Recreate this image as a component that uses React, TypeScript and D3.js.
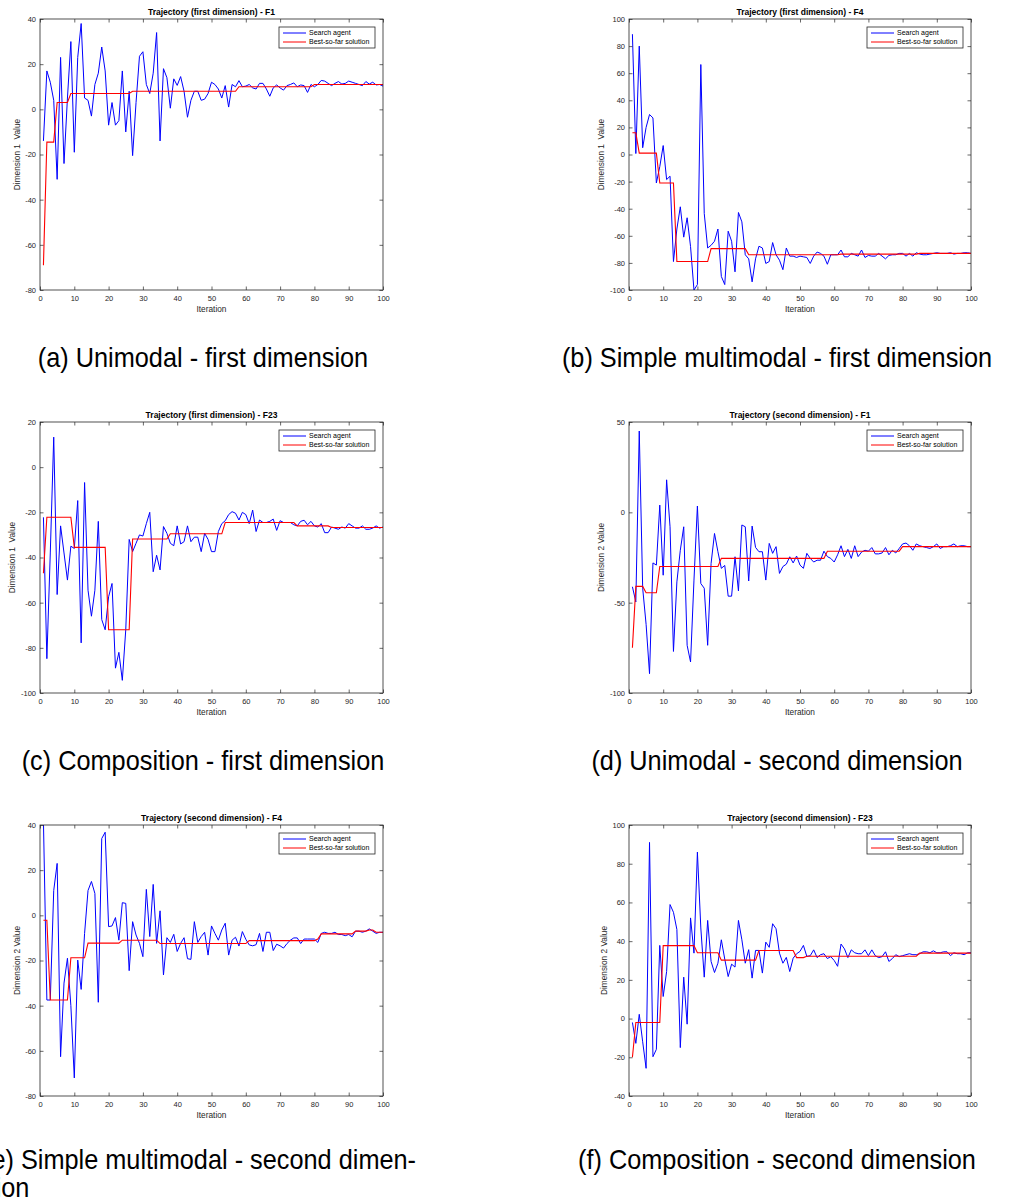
import React from 'react';
import { useRef, useEffect } from 'react';
import * as d3 from 'd3';

// iteration index (x values) and shared x ticks
const iterations = d3.range(1, 101);
const xTicks = [0, 10, 20, 30, 40, 50, 60, 70, 80, 90, 100];

// (a) F1, first dimension
const agentF1Dim1 = [
  -14, 17, 12, 4, -31, 23, -24, 5, 30, -19,
  23, 38, 5, 4, -3, 11, 16, 27.6, 17, -7,
  3, -7, -5, 17, -10, 8, -20.5, 3, 23.5, 25.5,
  11, 7, 16, 34, -14, 18, 14, 0.5, 13.5, 10.6,
  14.5, 8, -3.5, 4, 8, 8, 4, 4.5, 7, 12,
  11, 9, 5, 10.5, 1, 11, 10, 12.7, 10, 10.3,
  11, 9.5, 9, 11.5, 11.5, 9, 5.8, 9.5, 10.8, 9.5,
  8.5, 10.5, 11, 11.7, 10, 10.8, 10.5, 7.5, 11, 10,
  11, 12.8, 12.5, 11.5, 10.5, 11.5, 12.3, 11.2, 11.5, 12.5,
  12, 11.5, 11, 10.5, 12.3, 11.2, 12, 10.8, 11, 10.3,
];
const bestF1Dim1 = [
  -69, -14.5, -14.5, -14.5, 3, 3, 3, 3, 7, 7,
  7, 7, 7, 7, 7, 7, 7, 7, 7, 7,
  7, 7, 7, 7, 7, 7, 8, 8, 8, 8,
  8, 8, 8, 8, 8, 8, 8, 8, 8, 8,
  8, 8, 8, 8, 8, 8, 8, 8, 8, 8,
  8, 8, 8, 8, 8, 8, 8, 10, 10, 10,
  10, 10, 10, 10, 10, 10, 10, 10, 10, 10,
  10, 10, 10, 10, 10, 10, 10, 10, 10, 11,
  11, 11, 11, 11, 11, 11, 11, 11, 11, 11,
  11, 11, 11, 11, 11, 11, 11, 11, 11, 11,
];
const yTicksF1Dim1 = [-80, -60, -40, -20, 0, 20, 40];

// (b) F4, first dimension
const agentF4Dim1 = [
  88.8, 0.7, 80, 5, 20, 29.5, 27, -21, -9, 6.6,
  -18.5, -16, -79, -55, -38.6, -61, -46.7, -68, -100, -96,
  66.4, -43.5, -69, -67, -64, -55, -90, -96, -56.6, -64,
  -86.6, -42.8, -49.7, -74, -77, -94, -77, -67.7, -69, -80.4,
  -79, -65, -74, -78, -85, -69, -75, -75, -76, -75,
  -75.5, -76, -80.4, -75, -72, -73, -75, -81, -74, -74,
  -74, -70.5, -75.5, -75.5, -73, -74, -75, -70.5, -76, -74.5,
  -75, -75, -73, -75, -77, -74.5, -74, -74, -73, -73,
  -75, -73, -75, -72.5, -73.5, -74, -74, -73.5, -73, -72.5,
  -73, -73, -73, -72.5, -73.5, -73, -73, -72.5, -72.5, -73,
];
const bestF4Dim1 = [
  16, 16, 1, 1, 1, 1, 1, 1, -21, -21,
  -21, -21, -21, -79, -79, -79, -79, -79, -79, -79,
  -79, -79, -79, -69.5, -69.5, -69.5, -69.5, -69.5, -69.5, -69.5,
  -69.5, -69.5, -69.5, -69.5, -74, -74, -74, -74, -74, -74,
  -74, -74, -74, -74, -74, -74, -74, -74, -74, -74,
  -74, -74, -74, -74, -74, -74, -74, -74, -74, -74,
  -74, -73.5, -73.5, -73.5, -73.5, -73.5, -73.5, -73.5, -73.5, -73.5,
  -73.5, -73.5, -73.5, -73.5, -73.5, -73.5, -73.5, -73.5, -73.5, -73.5,
  -73.5, -73.5, -73.5, -73.5, -73, -73, -73, -73, -73, -73,
  -73, -73, -73, -73, -73, -73, -73, -73, -73, -73,
];
const yTicksF4Dim1 = [-100, -80, -60, -40, -20, 0, 20, 40, 60, 80, 100];

// (c) F23, first dimension
const agentF23Dim1 = [
  -22.2, -84.8, -38, 13.3, -56.4, -26, -38, -50, -35, -36,
  -14.8, -77.8, -6.8, -54.5, -66, -54.5, -24, -67.5, -72, -57.4,
  -51.5, -89, -82, -94.4, -72, -32, -37.4, -33.7, -30, -30.5,
  -25, -20, -46.3, -39, -45.5, -26.3, -29.3, -33.7, -34.8, -26,
  -34, -33, -26, -33, -31, -31, -37.4, -29.3, -32, -37.4,
  -37.4, -28.5, -25, -23.7, -21, -19.7, -20.4, -23.4, -20, -21,
  -25, -19, -28.5, -23.4, -24.5, -24.5, -24, -23, -28, -23.7,
  -24.5, -24.5, -24.5, -25.5, -26, -24, -23.5, -25.5, -24, -26,
  -26.5, -25, -29, -29, -26.5, -27, -27.5, -26.5, -27, -25,
  -26, -27, -27, -26, -27.5, -27.5, -27, -26, -27, -26.5,
];
const bestF23Dim1 = [
  -47, -22.2, -22.2, -22.2, -22.2, -22.2, -22.2, -22.2, -22.2, -35.5,
  -35.5, -35.5, -35.5, -35.5, -35.5, -35.5, -35.5, -35.5, -35.5, -72,
  -72, -72, -72, -72, -72, -72, -31.8, -31.8, -31.8, -31.8,
  -31.8, -31.8, -31.8, -31.8, -31.8, -31.8, -31.8, -29.5, -29.5, -29.5,
  -29.5, -29.5, -29.5, -29.5, -29.5, -29.5, -29.5, -29.5, -29.5, -29.5,
  -29.5, -29.5, -29.5, -24.5, -24.5, -24.5, -24.5, -24.5, -24.5, -24.5,
  -24.5, -24.5, -24.5, -24.5, -24.5, -24.5, -24.5, -24.5, -24.5, -24.5,
  -24.5, -24.5, -24.5, -24.5, -26, -26, -26, -26, -26, -26,
  -26, -26, -26, -26, -26.7, -26.7, -26.7, -26.7, -26.7, -26.7,
  -26.7, -26.7, -26.7, -26.7, -26.7, -26.7, -26.7, -26.7, -26.7, -26.7,
];
const yTicksF23Dim1 = [-100, -80, -60, -40, -20, 0, 20];

// (d) F1, second dimension
const agentF1Dim2 = [
  -41.2, -49.6, 45, -42, -62, -89.3, -28, -29.2, 4, -34.8,
  18, -8, -77, -38.5, -21, -8, -73.6, -82.8, -37.5, 3.5,
  -39.4, -42, -73.6, -28.3, -11.7, -21.8, -31, -29.4, -46.4, -46.4,
  -24.6, -43.5, -7, -8, -38, -7.6, -19.4, -21.8, -21.8, -37.5,
  -17.2, -22.7, -19, -33.8, -30, -28.7, -24.6, -28, -24.2, -29.2,
  -31, -22.7, -25.5, -27.5, -26.5, -26.5, -21.5, -24.5, -25.5, -27.5,
  -23.5, -18.5, -24.5, -20.5, -25.5, -18.5, -24.5, -22, -21, -21.5,
  -19.5, -23, -23, -22.5, -19.5, -23.5, -21, -22.5, -20, -17.5,
  -17, -18.5, -21, -17.5, -18.5, -19, -19.5, -20, -19, -17.5,
  -20, -19, -19, -18.5, -17.5, -19, -18.5, -18.5, -19, -19,
];
const bestF1Dim2 = [
  -75, -41, -41, -41, -44.5, -44.5, -44.5, -44.5, -30, -30,
  -30, -30, -30, -30, -30, -30, -30, -30, -30, -30,
  -30, -30, -30, -30, -30, -30, -25.5, -25.5, -25.5, -25.5,
  -25.5, -25.5, -25.5, -25.5, -25.5, -25.5, -25.5, -25.5, -25.5, -25.5,
  -25.5, -25.5, -25.5, -25.5, -25.5, -25.5, -25.5, -25.5, -25.5, -25.5,
  -25.5, -25.5, -25.5, -25.5, -25.5, -25.5, -25.5, -21.5, -21.5, -21.5,
  -21.5, -21.5, -21.5, -21.5, -21.5, -21.5, -21.5, -21.5, -21.5, -21.5,
  -21.5, -21.5, -21.5, -21.5, -21.5, -21.5, -21.5, -21.5, -21.5, -19,
  -19, -19, -19, -19, -19, -19, -19, -19, -19, -19,
  -19, -19, -19, -19, -19, -19, -19, -19, -19, -19,
];
const yTicksF1Dim2 = [-100, -50, 0, 50];

// (e) F4, second dimension
const agentF4Dim2 = [
  42, -37.5, -37.5, 11, 23, -62.6, -30, -19, -40, -72,
  -19.8, -32.8, -8, 11, 15, 9.7, -38.5, 34, 36.8, -5,
  -4.7, -1, -11, 5.6, 5.3, -24.5, -2.8, -8.7, -12.4, -18.3,
  11.5, -9.4, 13.7, -12.4, 2, -26.4, -9.9, -12, -8.4, -16,
  -12.4, -9.9, -19.2, -19.5, -2.8, -12, -9.4, -7.5, -17.6, -4.7,
  -8, -11, -6.5, -3.5, -17.6, -11, -9.7, -13.6, -7.2, -10.6,
  -13.1, -13.5, -13, -8, -16, -7.5, -7.5, -15.6, -12.8, -13.5,
  -14.5, -12.5, -11, -10, -10, -12.5, -10.5, -10.5, -10.5, -10.5,
  -12, -8, -7.5, -8, -8, -7.5, -8.5, -8.5, -9, -8.5,
  -9.5, -7, -7, -7.5, -7, -6, -7, -8, -7.5, -7.5,
];
const bestF4Dim2 = [
  -2.2, -2.2, -37.5, -37.5, -37.5, -37.5, -37.5, -37.5, -18.8, -18.8,
  -18.8, -18.8, -18.8, -12.3, -12.3, -12.3, -12.3, -12.3, -12.3, -12.3,
  -12.3, -12.3, -12.3, -11, -11, -11, -11, -11, -11, -11,
  -11, -11, -11, -11, -12.5, -12.5, -12.5, -12.5, -12.5, -12.5,
  -12.5, -12.5, -12.5, -12.5, -12.5, -12.5, -12.5, -12.5, -12.5, -12.5,
  -12.5, -12.5, -12.5, -12.5, -12.5, -12.5, -12.5, -12.5, -12.5, -12.5,
  -11.2, -11.2, -11.2, -11.2, -11.2, -11.2, -11.2, -11.2, -11.2, -11.2,
  -11.2, -11.2, -11.2, -11.2, -11.2, -11.2, -11.2, -11.2, -11.2, -11.2,
  -10.5, -8.2, -8.2, -8.2, -8.2, -8.2, -8.2, -8.2, -8.2, -8.2,
  -8.2, -7, -7, -7, -7, -6.5, -6.5, -7.5, -7.5, -7.5,
];
const yTicksF4Dim2 = [-80, -60, -40, -20, 0, 20, 40];

// (f) F23, second dimension
const agentF23Dim2 = [
  -2, -12.8, 2.2, -12, -25.7, 91, -19.7, -15.9, 37.8, 11.4,
  24.3, 58.9, 54.9, 46, -15, 21.4, -2.9, 52, 33.8, 86,
  46.8, 21.4, 50.7, 29.5, 23.8, 28.6, 40.7, 30.7, 21.7, 28.1,
  26.6, 50.7, 40.7, 28.6, 35.6, 20.9, 35.2, 35.2, 23.5, 39.5,
  36.8, 49, 46.4, 33.8, 28.6, 31.6, 24.3, 31.2, 33.5, 34.7,
  37.8, 32.1, 32.5, 35.5, 31.5, 33, 33.5, 31, 32, 30,
  27, 38.5, 36, 31.5, 35.5, 34, 33.5, 33.5, 35.5, 32.5,
  35.5, 32.5, 31.5, 32, 34.5, 29.5, 31, 33, 32, 32.5,
  33, 33.5, 33, 33, 33.5, 34.5, 34.5, 34, 35, 34,
  34, 34.5, 34.5, 32.5, 34, 33.5, 33.5, 33, 34, 34,
];
const bestF23Dim2 = [
  -20, -2, -2, -2, -2, -2, -2, -2, -2, 37.7,
  37.7, 37.7, 37.7, 37.7, 37.7, 37.7, 37.7, 37.7, 37.7, 34,
  34, 34, 34, 34, 34, 34, 30.2, 30.2, 30.2, 30.2,
  30.2, 30.2, 30.2, 30.2, 30.2, 30.2, 30.2, 35.2, 35.2, 35.2,
  35.2, 35.2, 35.2, 35.2, 35.2, 35.2, 35.2, 35.2, 31.5, 31.5,
  31.5, 32.2, 32.2, 32.2, 32.2, 32.2, 32.2, 32.2, 32.2, 32.2,
  32.2, 32.2, 32.2, 32.2, 32.2, 32.2, 32.2, 32.2, 32.2, 32.2,
  32.2, 32.2, 32.2, 32.2, 32.2, 32.2, 32.2, 32.2, 32.2, 32.2,
  32.2, 32.2, 32.2, 32.2, 33.8, 33.8, 33.8, 33.8, 33.8, 33.8,
  33.8, 33.8, 33.8, 33.8, 33.8, 33.8, 33.8, 33.8, 33.8, 33.8,
];
const yTicksF23Dim2 = [-40, -20, 0, 20, 40, 60, 80, 100];

const titles = [
  'Trajectory (first dimension) - F1',
  'Trajectory (first dimension) - F4',
  'Trajectory (first dimension) - F23',
  'Trajectory (second dimension) - F1',
  'Trajectory (second dimension) - F4',
  'Trajectory (second dimension) - F23',
];
const yLabels = [
  'Dimension 1  Value',
  'Dimension 1  Value',
  'Dimension 1  Value',
  'Dimension 2 Value',
  'Dimension 2 Value',
  'Dimension 2 Value',
];
const captions = [
  ['(a) Unimodal - first dimension'],
  ['(b) Simple multimodal - first dimension'],
  ['(c) Composition - first dimension'],
  ['(d) Unimodal - second dimension'],
  ['(e) Simple multimodal - second dimen-', 'sion'],
  ['(f) Composition - second dimension'],
];
const legendLabels = ['Search agent', 'Best-so-far solution'];

const charts = [
  { agent: agentF1Dim1, best: bestF1Dim1, yTicks: yTicksF1Dim1 },
  { agent: agentF4Dim1, best: bestF4Dim1, yTicks: yTicksF4Dim1 },
  { agent: agentF23Dim1, best: bestF23Dim1, yTicks: yTicksF23Dim1 },
  { agent: agentF1Dim2, best: bestF1Dim2, yTicks: yTicksF1Dim2 },
  { agent: agentF4Dim2, best: bestF4Dim2, yTicks: yTicksF4Dim2 },
  { agent: agentF23Dim2, best: bestF23Dim2, yTicks: yTicksF23Dim2 },
];

const W = 1009;
const H = 1200;
const FONT = "'Liberation Sans', Arial, Helvetica, sans-serif";
const AXIS = '#262626';

export default function App() {
  const svgRef = useRef<SVGSVGElement>(null);

  useEffect(() => {
    const svg = d3.select(svgRef.current);
    svg.selectAll('*').remove();

    //layout of the grid
    const colLeft = [40, 629];
    const colRight = [383, 971];
    const rowTop = [19, 422, 825];
    const plotH = 271;
    const capCenter = [203, 777];
    const capBase = [367, 770, 1169];
    const capBoxW = 440;
    const capLineGap = 28;

    charts.forEach((c, i) => {
      const col = i % 2;
      const row = Math.floor(i / 2);
      const x0 = colLeft[col];
      const x1 = colRight[col];
      const y0 = rowTop[row];
      const y1 = y0 + plotH;
      const yDomain = d3.extent(c.yTicks) as [number, number];

      const x = d3.scaleLinear().domain([0, 100]).range([x0, x1]);
      const y = d3.scaleLinear().domain(yDomain).range([y1, y0]);

      const g = svg.append('g');

      g.append('rect')
        .attr('x', x0)
        .attr('y', y0)
        .attr('width', x1 - x0)
        .attr('height', y1 - y0)
        .attr('fill', '#fff');

      g.append('clipPath')
        .attr('id', `clip-${i}`)
        .append('rect')
        .attr('x', x0)
        .attr('y', y0)
        .attr('width', x1 - x0)
        .attr('height', y1 - y0);

      const line = d3
        .line<number>()
        .x((d, k) => x(iterations[k]))
        .y((d) => y(d));

      g.append('path')
        .attr('d', line(c.agent))
        .attr('fill', 'none')
        .attr('stroke', '#0000ff')
        .attr('stroke-width', 1)
        .attr('clip-path', `url(#clip-${i})`);
      g.append('path')
        .attr('d', line(c.best))
        .attr('fill', 'none')
        .attr('stroke', '#ff0000')
        .attr('stroke-width', 1.1)
        .attr('clip-path', `url(#clip-${i})`);

      // axes, ticks pointing inward on all four sides
      const styleAxis = (sel: any, fs: number) => {
        sel.select('.domain').remove();
        sel.selectAll('line').attr('stroke', AXIS).attr('stroke-width', 0.7);
        sel
          .selectAll('text')
          .attr('fill', AXIS)
          .style('font-family', FONT)
          .style('font-size', fs + 'px');
        sel.attr('font-family', null).attr('font-size', null);
      };

      const bottom = g
        .append('g')
        .attr('transform', `translate(0,${y1})`)
        .call(d3.axisBottom(x).tickValues(xTicks).tickSizeInner(-3.5).tickSizeOuter(0).tickPadding(6));
      styleAxis(bottom, 7.5);
      const top = g
        .append('g')
        .attr('transform', `translate(0,${y0})`)
        .call(d3.axisTop(x).tickValues(xTicks).tickSizeInner(-3.5).tickSizeOuter(0).tickFormat(() => ''));
      styleAxis(top, 7.5);
      const left = g
        .append('g')
        .attr('transform', `translate(${x0},0)`)
        .call(d3.axisLeft(y).tickValues(c.yTicks).tickSizeInner(-3.5).tickSizeOuter(0).tickPadding(4).tickFormat(d3.format('d')));
      styleAxis(left, 7.5);
      left.selectAll('text').text((d: any) => String(d).replace('\u2212', '-'));
      const right = g
        .append('g')
        .attr('transform', `translate(${x1},0)`)
        .call(d3.axisRight(y).tickValues(c.yTicks).tickSizeInner(-3.5).tickSizeOuter(0).tickFormat(() => ''));
      styleAxis(right, 7.5);

      // box
      g.append('rect')
        .attr('x', x0)
        .attr('y', y0)
        .attr('width', x1 - x0)
        .attr('height', y1 - y0)
        .attr('fill', 'none')
        .attr('stroke', AXIS)
        .attr('stroke-width', 0.8);

      // title
      g.append('text')
        .attr('x', (x0 + x1) / 2)
        .attr('y', y0 - 4.5)
        .attr('text-anchor', 'middle')
        .style('font-family', FONT)
        .style('font-size', '8.5px')
        .style('font-weight', 'bold')
        .style('fill', '#000')
        .text(titles[i]);

      // x label
      g.append('text')
        .attr('x', (x0 + x1) / 2)
        .attr('y', y1 + 22)
        .attr('text-anchor', 'middle')
        .style('font-family', FONT)
        .style('font-size', '8.3px')
        .style('fill', AXIS)
        .text('Iteration');

      // y label, placed left of the widest tick label
      let maxW = 0;
      left.selectAll('text').each(function () {
        maxW = Math.max(maxW, (this as SVGTextElement).getComputedTextLength());
      });
      const lx = x0 - 4 - maxW - 5.5;
      g.append('text')
        .attr('transform', `translate(${lx},${(y0 + y1) / 2}) rotate(-90)`)
        .attr('text-anchor', 'middle')
        .style('font-family', FONT)
        .style('font-size', '8.3px')
        .style('fill', AXIS)
        .style('white-space', 'pre')
        .text(yLabels[i]);

      // legend
      const lgW = 96;
      const lgX = x1 - 8 - lgW;
      const lgY = y0 + 8;
      const lg = g.append('g');
      lg.append('rect')
        .attr('x', lgX)
        .attr('y', lgY)
        .attr('width', lgW)
        .attr('height', 21)
        .attr('fill', '#fff')
        .attr('stroke', AXIS)
        .attr('stroke-width', 0.8);
      ['#0000ff', '#ff0000'].forEach((col, k) => {
        const ly = lgY + 6 + k * 9;
        lg.append('line')
          .attr('x1', lgX + 4)
          .attr('x2', lgX + 27)
          .attr('y1', ly)
          .attr('y2', ly)
          .attr('stroke', col)
          .attr('stroke-width', 1);
        lg.append('text')
          .attr('x', lgX + 30)
          .attr('y', ly)
          .attr('dy', '0.35em')
          .style('font-family', FONT)
          .style('font-size', '7px')
          .style('fill', '#000')
          .text(legendLabels[k]);
      });

      // sub-figure caption
      const lines = captions[i];
      const multi = lines.length > 1;
      lines.forEach((t, k) => {
        const cx = multi ? capCenter[col] - capBoxW / 2 : capCenter[col];
        svg
          .append('text')
          .attr('transform', `translate(${cx},${capBase[row] + k * capLineGap}) scale(1,1.08)`)
          .attr('text-anchor', multi ? 'start' : 'middle')
          .style('font-family', FONT)
          .style('font-size', '25.3px')
          .style('fill', '#000')
          .text(t);
      });
    });
  }, []);

  return (
    <svg
      ref={svgRef}
      width={W}
      height={H}
      style={{ position: 'absolute', left: 0, top: 0, background: '#fff' }}
    ></svg>
  );
}
